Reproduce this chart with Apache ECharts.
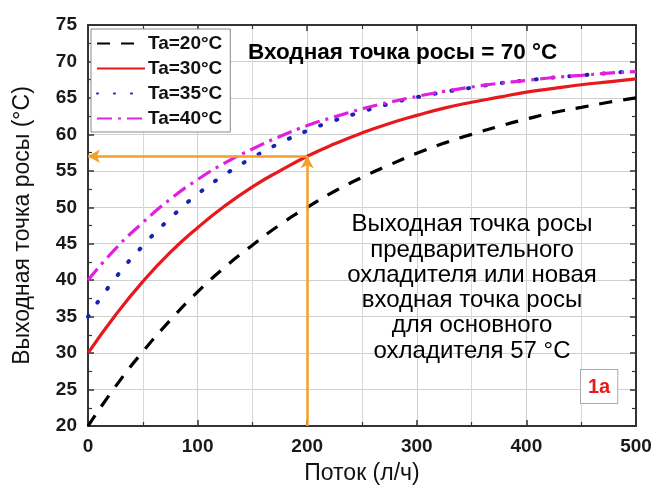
<!DOCTYPE html>
<html>
<head>
<meta charset="utf-8">
<script src="https://cdn.jsdelivr.net/npm/echarts@6/dist/echarts.min.js"></script>
<style>
  html, body { margin: 0; padding: 0; background: #fff; }
  #chart { width: 655px; height: 490px; }
</style>
</head>
<body>
<div id="chart"></div>
<script>
// flow (l/h) sampled every 25
const flow = [0, 25, 50, 75, 100, 125, 150, 175, 200, 225, 250, 275, 300, 325, 350, 375, 400, 425, 450, 475, 500];

// outlet dew point, one array per ambient temperature
const ta20 = [20.0, 25.4, 30.2, 34.5, 38.4, 41.8, 44.8, 47.6, 50.0, 52.2, 54.1, 55.8, 57.4, 58.8, 60.0, 61.1, 62.1, 63.0, 63.7, 64.4, 65.0];
const ta30 = [30.0, 35.2, 39.8, 43.8, 47.2, 50.2, 52.8, 55.0, 57.0, 58.7, 60.2, 61.5, 62.6, 63.6, 64.4, 65.1, 65.8, 66.3, 66.8, 67.2, 67.6];
const ta35 = [35.0, 40.3, 44.7, 48.5, 51.8, 54.5, 56.8, 58.8, 60.5, 61.9, 63.1, 64.2, 65.1, 65.8, 66.4, 67.0, 67.4, 67.8, 68.1, 68.4, 68.7];
const ta40 = [40.0, 44.3, 47.9, 51.1, 53.8, 56.1, 58.0, 59.7, 61.2, 62.4, 63.5, 64.4, 65.2, 65.9, 66.5, 67.0, 67.4, 67.8, 68.1, 68.4, 68.6];

const seriesNames = ["Ta=20°C", "Ta=30°C", "Ta=35°C", "Ta=40°C"];

// operating point marked by the orange arrows
const opFlow = 200;
const opDew = 57;

const FONT = "Liberation Sans, Arial, sans-serif";
const pairs = (ys) => flow.map((x, i) => [x, ys[i]]);

const axisBase = {
  type: "value",
  axisLine: { show: true, onZero: false, lineStyle: { color: "#333", width: 2 } },
  axisTick: { show: true, inside: true, length: 6, lineStyle: { color: "#333", width: 1.5 } },
  minorTick: { show: true, splitNumber: 2, length: 4, lineStyle: { color: "#333", width: 1.2 } },
};

const chart = echarts.init(document.getElementById("chart"), null, { renderer: "canvas" });

chart.setOption({
  animation: false,
  textStyle: { fontFamily: FONT },
  grid: { left: 88, right: 19, top: 25, bottom: 63 },
  legend: {
    data: seriesNames,
    orient: "vertical",
    left: 91,
    top: 29,
    itemWidth: 48,
    itemHeight: 14,
    itemGap: 6,
    padding: [5, 8, 4, 5],
    borderColor: "#888",
    borderWidth: 1,
    backgroundColor: "#fff",
    itemStyle: { opacity: 0, borderWidth: 0 },
    textStyle: { fontFamily: FONT, fontSize: 19, fontWeight: "bold", color: "#111", padding: [0, 0, 0, -2] },
  },
  xAxis: [
    Object.assign({}, axisBase, {
      min: 0, max: 500, interval: 100,
      name: "Поток (л/ч)",
      nameLocation: "middle",
      nameGap: 36,
      nameTextStyle: { fontSize: 23, color: "#111", fontFamily: FONT },
      axisLabel: { fontSize: 19, fontWeight: "bold", color: "#1a1a1a", margin: 11 },
      splitLine: { show: true, lineStyle: { color: "#d0d0d0", width: 1 } },
      minorSplitLine: { show: true, lineStyle: { color: "#d8d8d8", width: 1 } },
    }),
    Object.assign({}, axisBase, {
      position: "top",
      min: 0, max: 500, interval: 100,
      axisLabel: { show: false },
      splitLine: { show: false },
    }),
  ],
  yAxis: [
    Object.assign({}, axisBase, {
      min: 20, max: 75, interval: 5,
      name: "Выходная точка росы (°C)",
      nameLocation: "middle",
      nameGap: 54,
      nameTextStyle: { fontSize: 23, color: "#111", fontFamily: FONT },
      axisLabel: { fontSize: 19, fontWeight: "bold", color: "#1a1a1a", margin: 11 },
      splitLine: { show: true, lineStyle: { color: "#d0d0d0", width: 1 } },
    }),
    Object.assign({}, axisBase, {
      position: "right",
      min: 20, max: 75, interval: 5,
      axisLabel: { show: false },
      splitLine: { show: false },
    }),
  ],
  series: [
    {
      name: seriesNames[0], type: "line", data: pairs(ta20), symbol: "none", smooth: true, z: 3,
      itemStyle: { color: "#000" },
      lineStyle: { color: "#000", width: 3.2, type: [13, 11] },
    },
    {
      name: seriesNames[1], type: "line", data: pairs(ta30), symbol: "none", smooth: true, z: 3,
      itemStyle: { color: "#e8191c" },
      lineStyle: { color: "#e8191c", width: 3.2, type: "solid" },
    },
    {
      name: seriesNames[2], type: "line", data: pairs(ta35), symbol: "none", smooth: true, z: 3,
      itemStyle: { color: "#1a22b0" },
      lineStyle: { color: "#1a22b0", width: 4, type: [1, 16], cap: "round" },
    },
    {
      name: seriesNames[3], type: "line", data: pairs(ta40), symbol: "none", smooth: true, z: 4,
      itemStyle: { color: "#e020e0" },
      lineStyle: { color: "#e020e0", width: 3.2, type: [15, 6, 3, 6] },
      markLine: {
        silent: true,
        symbol: ["none", "arrow"],
        symbolSize: [10, 12],
        label: { show: false },
        lineStyle: { color: "#f2a02a", width: 2.5, type: "solid" },
        data: [
          [{ coord: [opFlow, opDew] }, { coord: [0, opDew] }],
          [{ coord: [opFlow, 20] }, { coord: [opFlow, opDew] }],
        ],
      },
    },
  ],
  graphic: [
    {
      type: "text", left: 248, top: 41,
      style: { text: "Входная точка росы = 70 °C", font: "bold 22.5px " + FONT, fill: "#000" },
      z: 10,
    },
    {
      type: "text", x: 472, y: 212,
      style: {
        text: "Выходная точка росы\nпредварительного\nохладителя или новая\nвходная точка росы\nдля основного\nохладителя 57 °C",
        font: "24px " + FONT, fill: "#000", align: "center", verticalAlign: "top", lineHeight: 25.3,
      },
      z: 10,
    },
    {
      type: "text", x: 581, y: 370,
      style: {
        text: "1a", font: "bold 20px " + FONT, fill: "#e8191c",
        backgroundColor: "#fff", borderColor: "#aaa", borderWidth: 1, padding: [7, 7, 6, 7],
      },
      z: 10,
    },
  ],
});
</script>
</body>
</html>
